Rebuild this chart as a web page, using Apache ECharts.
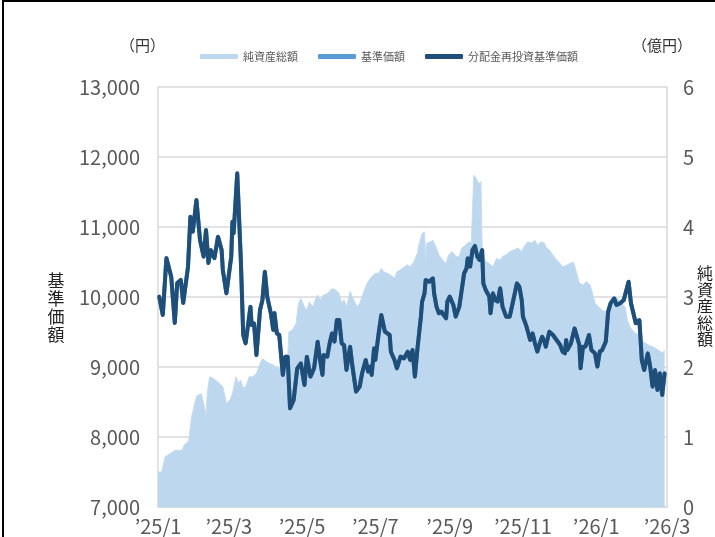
<!DOCTYPE html>
<html lang="ja">
  <head>
    <meta charset="UTF-8" />
    <title>基準価額・純資産総額の推移</title>
    <style>
      html, body { margin: 0; padding: 0; background: #fff; }
      #main { position: absolute; left: 0; top: 0; width: 715px; height: 537px; }
      .frame {
        position: absolute; left: 2px; top: 0; width: 713px; height: 537px;
        border-top: 2px solid #000; border-left: 2px solid #000;
        box-sizing: border-box; pointer-events: none;
      }
    </style>
  </head>
  <body>
    <div id="main"></div>
    <div class="frame"></div>
    <script src="https://cdn.jsdelivr.net/npm/echarts@6/dist/echarts.min.js"></script>
    <script>
      // 分配金再投資基準価額（円）
      var navDates = [
        "2025-01-02","2025-01-05","2025-01-08","2025-01-12","2025-01-15","2025-01-17","2025-01-20","2025-01-22",
        "2025-01-26","2025-01-28","2025-01-30","2025-02-02","2025-02-05","2025-02-08","2025-02-10","2025-02-12",
        "2025-02-14","2025-02-17","2025-02-20","2025-02-23","2025-02-24","2025-02-27","2025-03-03","2025-03-04",
        "2025-03-05","2025-03-08","2025-03-11","2025-03-13","2025-03-15","2025-03-19","2025-03-20","2025-03-22",
        "2025-03-24","2025-03-27","2025-03-29","2025-03-31","2025-04-02","2025-04-05","2025-04-07","2025-04-08",
        "2025-04-10","2025-04-12","2025-04-15","2025-04-17","2025-04-19","2025-04-21","2025-04-24","2025-04-27",
        "2025-04-30","2025-05-03","2025-05-05","2025-05-08","2025-05-11","2025-05-14","2025-05-16","2025-05-18",
        "2025-05-19","2025-05-22","2025-05-24","2025-05-26","2025-05-28","2025-05-30","2025-06-01","2025-06-03",
        "2025-06-05","2025-06-07","2025-06-10","2025-06-12","2025-06-15","2025-06-18","2025-06-20","2025-06-23",
        "2025-06-25","2025-06-27","2025-06-28","2025-06-30","2025-07-01","2025-07-04","2025-07-06","2025-07-09",
        "2025-07-13","2025-07-14","2025-07-17","2025-07-19","2025-07-22","2025-07-25","2025-07-28","2025-07-30",
        "2025-08-01","2025-08-03","2025-08-05","2025-08-08","2025-08-09","2025-08-11","2025-08-12","2025-08-15",
        "2025-08-18","2025-08-19","2025-08-21","2025-08-23","2025-08-25","2025-08-27","2025-08-29","2025-08-30",
        "2025-09-01","2025-09-04","2025-09-06","2025-09-09","2025-09-11","2025-09-13","2025-09-15","2025-09-16",
        "2025-09-18","2025-09-20","2025-09-22","2025-09-24","2025-09-26","2025-09-28","2025-09-29","2025-10-01",
        "2025-10-04","2025-10-05","2025-10-07","2025-10-09","2025-10-11","2025-10-13","2025-10-15","2025-10-18",
        "2025-10-21","2025-10-24","2025-10-27","2025-10-29","2025-10-31","2025-11-01","2025-11-04","2025-11-07",
        "2025-11-09","2025-11-11","2025-11-13","2025-11-15","2025-11-17","2025-11-19","2025-11-20","2025-11-23",
        "2025-11-26","2025-11-29","2025-12-02","2025-12-04","2025-12-06","2025-12-07","2025-12-08","2025-12-11",
        "2025-12-14","2025-12-18","2025-12-19","2025-12-21","2025-12-23","2025-12-26","2025-12-28","2025-12-31",
        "2026-01-02","2026-01-04","2026-01-06","2026-01-09","2026-01-11","2026-01-13","2026-01-16","2026-01-18",
        "2026-01-21","2026-01-24","2026-01-28","2026-01-30","2026-02-01","2026-02-03","2026-02-06","2026-02-08",
        "2026-02-10","2026-02-13","2026-02-15","2026-02-17","2026-02-19","2026-02-21","2026-02-23","2026-02-25",
        "2026-02-27"
      ];
      var navValues = [
        10005, 9743, 10557, 10290, 9629, 10200, 10243, 9914,
        10433, 11147, 10933, 11386, 10814, 10576, 10957, 10486,
        10671, 10553, 10862, 10671, 10386, 10052, 10576, 11076,
        10910, 11767, 10529, 9457, 9338, 9862, 9600, 9624,
        9171, 9814, 9957, 10362, 10004, 9767, 9529, 9771,
        9481, 9457, 8886, 9148, 9148, 8410, 8529, 8981,
        9052, 8743, 9148, 8862, 8981, 9362, 9100, 8886,
        9171, 9148, 9338, 9481, 9362, 9671, 9671, 9338,
        9314, 8957, 9290, 9005, 8648, 8719, 8910, 9100,
        8933, 9005, 8886, 9267, 9100, 9505, 9743, 9505,
        9457, 9219, 9100, 8981, 9148, 9124, 9219, 9100,
        9243, 8862, 9243, 9719, 9933, 10052, 10243, 10219,
        10267, 10052, 9862, 9767, 9790, 9743, 9695, 9933,
        10005, 9886, 9719, 9862, 10100, 10338, 10410, 10553,
        10433, 10671, 10729, 10576, 10529, 10671, 10195, 10100,
        10005, 9767, 10052, 9957, 9933, 10124, 9862, 9719,
        9719, 9957, 10195, 10148, 9957, 9719, 9576, 9386,
        9481, 9338, 9219, 9338, 9433, 9360, 9290, 9505,
        9457, 9386, 9314, 9219, 9195, 9386, 9243, 9338,
        9552, 9314, 8981, 9290, 9290, 9457, 9243, 9195,
        9005, 9219, 9243, 9362, 9790, 9910, 9981, 9886,
        9910, 9957, 10219, 9910, 9767, 9624, 9671, 9100,
        8957, 9195, 9005, 8719, 8957, 8671, 8910, 8600,
        8910
      ];
      // 基準価額（円）：分配実績なしのため再投資基準価額と同値
      var baseNavValues = navValues.slice();

      // 純資産総額（億円）
      var aumDates = [
        "2025-01-01","2025-01-04","2025-01-07","2025-01-09","2025-01-12","2025-01-15","2025-01-21","2025-01-23",
        "2025-01-26","2025-01-27","2025-01-29","2025-01-31","2025-02-02","2025-02-03","2025-02-06","2025-02-08",
        "2025-02-10","2025-02-11","2025-02-13","2025-02-16","2025-02-18","2025-02-21","2025-02-24","2025-02-27",
        "2025-03-02","2025-03-04","2025-03-07","2025-03-09","2025-03-11","2025-03-13","2025-03-15","2025-03-18",
        "2025-03-21","2025-03-24","2025-03-27","2025-03-29","2025-04-01","2025-04-04","2025-04-07","2025-04-09",
        "2025-04-12","2025-04-15","2025-04-17","2025-04-19","2025-04-20","2025-04-23","2025-04-26","2025-04-28",
        "2025-04-30","2025-05-03","2025-05-05","2025-05-07","2025-05-10","2025-05-12","2025-05-14","2025-05-16",
        "2025-05-19","2025-05-22","2025-05-26","2025-05-29","2025-06-01","2025-06-03","2025-06-05","2025-06-07",
        "2025-06-10","2025-06-13","2025-06-16","2025-06-18","2025-06-23","2025-06-25","2025-06-28","2025-07-01",
        "2025-07-04","2025-07-06","2025-07-08","2025-07-11","2025-07-14","2025-07-17","2025-07-19","2025-07-22",
        "2025-07-25","2025-07-28","2025-07-30","2025-08-02","2025-08-05","2025-08-06","2025-08-09","2025-08-11",
        "2025-08-12","2025-08-13","2025-08-16","2025-08-18","2025-08-21","2025-08-23","2025-08-26","2025-08-29",
        "2025-08-31","2025-09-03","2025-09-06","2025-09-09","2025-09-11","2025-09-14","2025-09-17","2025-09-19",
        "2025-09-21","2025-09-23","2025-09-25","2025-09-27","2025-09-28","2025-09-30","2025-10-02","2025-10-04",
        "2025-10-07","2025-10-10","2025-10-13","2025-10-15","2025-10-18","2025-10-21","2025-10-24","2025-10-28",
        "2025-10-31","2025-11-02","2025-11-05","2025-11-08","2025-11-11","2025-11-13","2025-11-16","2025-11-19",
        "2025-11-20","2025-11-23","2025-11-26","2025-11-29","2025-12-02","2025-12-04","2025-12-07","2025-12-10",
        "2025-12-13","2025-12-15","2025-12-18","2025-12-21","2025-12-24","2025-12-27","2025-12-29","2025-12-31",
        "2026-01-03","2026-01-06","2026-01-09","2026-01-11","2026-01-13","2026-01-16","2026-01-19","2026-01-22",
        "2026-01-25","2026-01-27","2026-01-29","2026-01-31","2026-02-03","2026-02-06","2026-02-09","2026-02-11",
        "2026-02-14","2026-02-17","2026-02-19","2026-02-22","2026-02-25","2026-02-27"
      ];
      var aumValues = [
        0.50, 0.50, 0.72, 0.74, 0.77, 0.81, 0.81, 0.89,
        0.93, 1.00, 1.29, 1.43, 1.58, 1.60, 1.62, 1.48,
        1.31, 1.62, 1.86, 1.84, 1.81, 1.77, 1.72, 1.48,
        1.53, 1.62, 1.86, 1.77, 1.81, 1.70, 1.72, 1.86,
        1.86, 1.91, 2.05, 2.12, 2.08, 2.05, 2.03, 2.00,
        1.98, 1.96, 2.10, 2.10, 2.50, 2.53, 2.62, 2.91,
        2.98, 2.86, 2.81, 2.93, 2.86, 2.96, 3.03, 2.96,
        3.03, 3.05, 3.12, 3.10, 3.05, 2.91, 2.96, 2.86,
        3.08, 2.96, 2.86, 2.91, 3.15, 3.22, 3.29, 3.34,
        3.34, 3.41, 3.36, 3.34, 3.31, 3.27, 3.36, 3.39,
        3.43, 3.46, 3.43, 3.50, 3.62, 3.72, 3.91, 3.93,
        3.53, 3.77, 3.79, 3.81, 3.70, 3.60, 3.53, 3.48,
        3.60, 3.65, 3.58, 3.58, 3.70, 3.74, 3.79, 3.77,
        4.74, 4.70, 4.62, 4.65, 3.72, 3.53, 3.50, 3.48,
        3.43, 3.55, 3.53, 3.58, 3.60, 3.65, 3.67, 3.70,
        3.65, 3.72, 3.79, 3.77, 3.81, 3.74, 3.79, 3.77,
        3.72, 3.67, 3.60, 3.53, 3.48, 3.43, 3.45, 3.48,
        3.50, 3.39, 3.20, 3.17, 3.22, 3.17, 3.05, 2.91,
        2.86, 2.81, 2.79, 2.86, 2.96, 3.00, 2.98, 2.91,
        2.86, 2.67, 2.58, 2.53, 2.48, 2.46, 2.36, 2.34,
        2.31, 2.29, 2.27, 2.24, 2.20, 2.24
      ];

      // 目盛
      var tickDates = ["2025-01-01","2025-03-01","2025-05-01","2025-07-01","2025-09-01","2025-11-01","2026-01-01","2026-03-01"];
      var seriesNames = ["純資産総額", "基準価額", "分配金再投資基準価額"];

      function toTime(s) {
        var p = s.split("-");
        return new Date(+p[0], +p[1] - 1, +p[2]).getTime();
      }
      function pairs(dates, vals) {
        return dates.map(function (d, i) { return [toTime(d), vals[i]]; });
      }

      var font = "'Noto Sans CJK JP', 'Noto Sans', sans-serif";
      var grey = "#595959";
      var gridGrey = "#d9d9d9";

      var myChart = echarts.init(document.getElementById("main"));
      var option = {
        animation: false,
        backgroundColor: "#fff",
        textStyle: { fontFamily: font },
        legend: {
          left: 195,
          top: 46,
          itemWidth: 38,
          itemHeight: 5,
          itemGap: 20,
          icon: "roundRect",
          textStyle: { fontSize: 11, color: grey, fontFamily: font },
          data: seriesNames
        },
        grid: { left: 158, right: 48, top: 87, bottom: 30, outerBoundsMode: "none" },
        xAxis: {
          type: "value",
          min: toTime(tickDates[0]),
          max: toTime(tickDates[tickDates.length - 1]),
          axisLine: { show: true, lineStyle: { color: gridGrey, width: 1.5 } },
          axisTick: { show: false },
          splitLine: { show: false },
          axisLabel: {
            customValues: tickDates.map(toTime),
            showMinLabel: true,
            showMaxLabel: true,
            hideOverlap: false,
            margin: 9,
            color: grey,
            fontSize: 20,
            fontFamily: font,
            formatter: function (v) {
              var d = new Date(v);
              return "\u2019" + String(d.getFullYear()).slice(2) + "/" + (d.getMonth() + 1);
            }
          }
        },
        yAxis: [
          {
            type: "value",
            min: 7000,
            max: 13000,
            interval: 1000,
            axisLine: { show: true, lineStyle: { color: gridGrey, width: 1.5 } },
            axisTick: { show: false },
            splitLine: { show: true, lineStyle: { color: gridGrey, width: 1.5 } },
            axisLabel: {
              margin: 18,
              color: grey,
              fontSize: 20,
              fontFamily: font,
              formatter: function (v) { return v.toLocaleString("en-US"); }
            }
          },
          {
            type: "value",
            min: 0,
            max: 6,
            interval: 1,
            position: "right",
            axisLine: { show: true, lineStyle: { color: gridGrey, width: 1.5 } },
            axisTick: { show: false },
            splitLine: { show: false },
            axisLabel: { margin: 16, color: grey, fontSize: 20, fontFamily: font }
          }
        ],
        graphic: [
          { type: "text", left: 120, top: 38, style: { text: "（円）", fontSize: 15, fill: "#333", fontFamily: font } },
          { type: "text", left: 632, top: 38, style: { text: "（億円）", fontSize: 15, fill: "#333", fontFamily: font } },
          {
            type: "text", x: 56, y: 308,
            style: { text: "基\n準\n価\n額", fontSize: 17, lineHeight: 18, fill: "#222", align: "center", verticalAlign: "middle", fontFamily: font }
          },
          {
            type: "text", x: 705, y: 306,
            style: { text: "純\n資\n産\n総\n額", fontSize: 16, lineHeight: 16.5, fill: "#222", align: "center", verticalAlign: "middle", fontFamily: font }
          }
        ],
        series: [
          {
            name: seriesNames[0],
            type: "line",
            yAxisIndex: 1,
            data: pairs(aumDates, aumValues),
            showSymbol: false,
            symbol: "none",
            itemStyle: { color: "#bdd7ee" },
            lineStyle: { width: 1, color: "#c6dcf0" },
            areaStyle: { color: "#bdd7ee", opacity: 1 },
            z: 1
          },
          {
            name: seriesNames[1],
            type: "line",
            data: pairs(navDates, baseNavValues),
            symbol: "none",
            itemStyle: { color: "#5b9bd5" },
            lineStyle: { width: 4, color: "#5b9bd5" },
            z: 2
          },
          {
            name: seriesNames[2],
            type: "line",
            data: pairs(navDates, navValues),
            symbol: "none",
            itemStyle: { color: "#1f4e79" },
            lineStyle: { width: 4, color: "#1f4e79", join: "round", cap: "round" },
            z: 3
          }
        ]
      };
      myChart.setOption(option);
    </script>
  </body>
</html>
